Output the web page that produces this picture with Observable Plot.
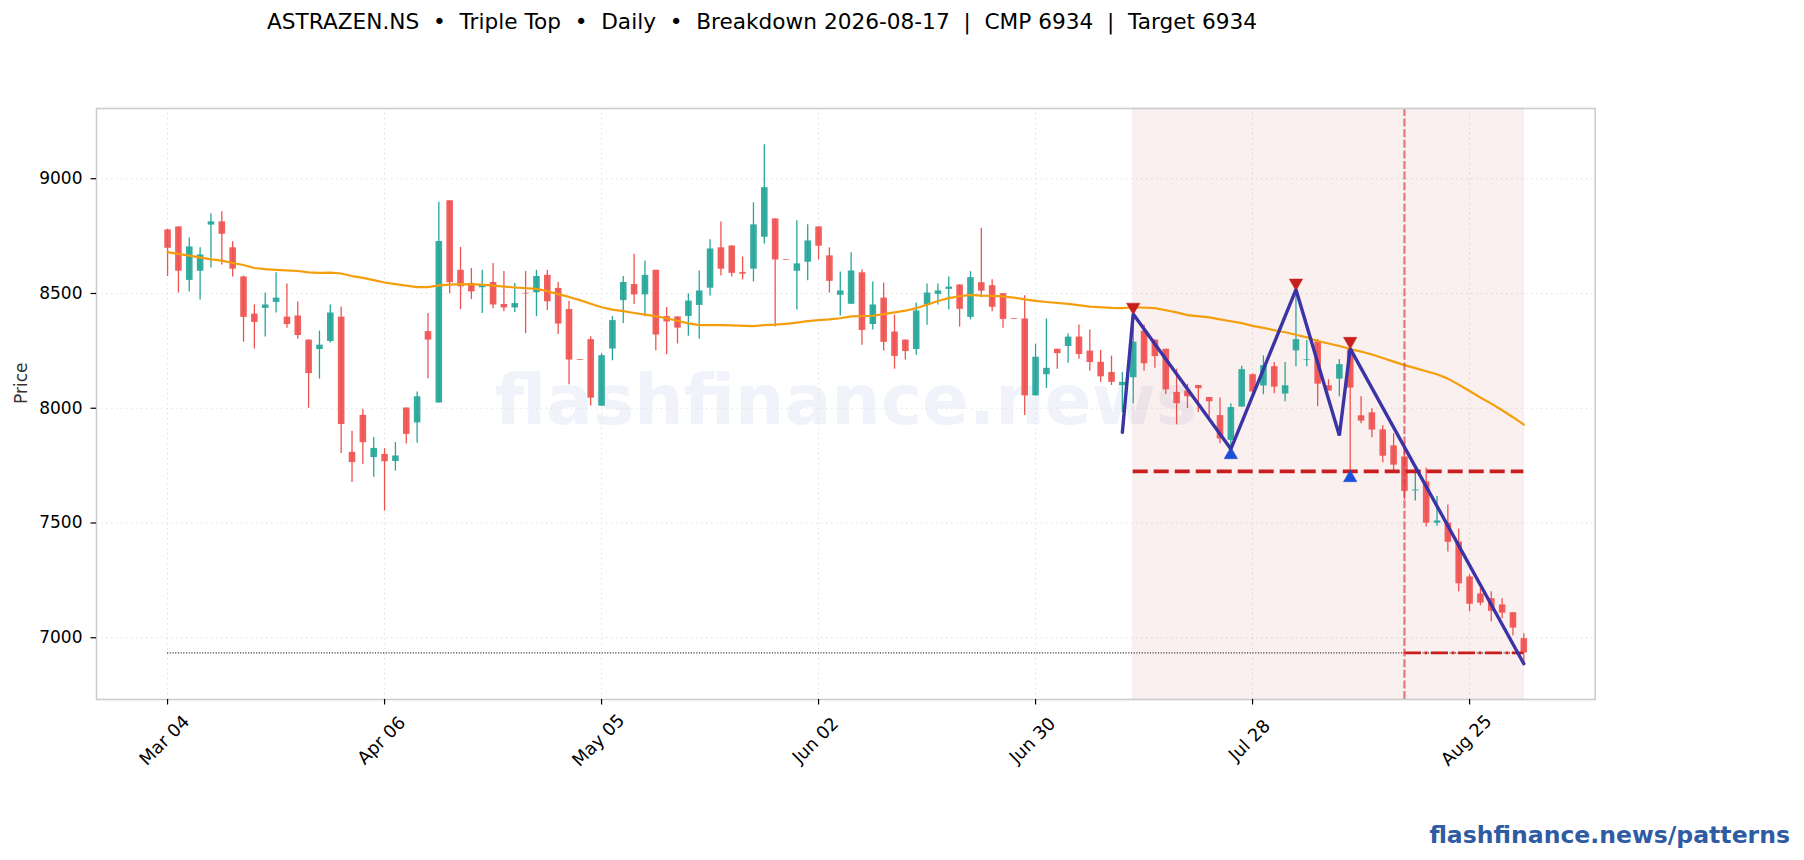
<!DOCTYPE html>
<html>
<head>
<meta charset="utf-8">
<script src="https://cdn.jsdelivr.net/npm/d3@7"></script>
<script src="https://cdn.jsdelivr.net/npm/@observablehq/plot@0.6"></script>
<style>
html,body{margin:0;padding:0;background:#fff;overflow:hidden}
body{width:1804px;height:860px;font-family:"DejaVu Sans",sans-serif}
#title{height:40px;line-height:44px;font-size:21.65px;color:#000;text-align:center;width:1524px;white-space:pre}
#chart svg{display:block}
#chart{height:760px}
#brand{height:60px;line-height:70px;text-align:right;padding-right:14px;font-weight:700;font-size:23.55px;color:#2f5ba3}
</style>
</head>
<body>
<div id="title">ASTRAZEN.NS  •  Triple Top  •  Daily  •  Breakdown 2026-08-17  |  CMP 6934  |  Target 6934</div>
<div id="chart"></div>
<div id="brand">flashfinance.news/patterns</div>
<script>
const opens = [8777,8790,8557,8597,8798,8812,8699,8572,8410,8435,8461,8397,8402,8297,8256,8291,8397,7808,7969,7785,
7799,7768,8001,7936,8334,8023,8904,8601,8544,8525,8548,8452,8437,8501,8503,8579,8522,8430,8211,8299,
8009,8258,8469,8539,8494,8601,8399,8398,8400,8448,8523,8699,8707,8591,8606,8745,8825,8648,8597,8636,
8790,8664,8492,8453,8590,8365,8480,8332,8297,8256,8450,8496,8518,8537,8396,8547,8534,8499,8390,8389,
8054,8146,8257,8269,8310,8249,8200,8156,8098,8133,8336,8297,8257,8069,8075,8099,8047,7968,7860,8005,
8146,8097,8181,8062,8250,8209,8290,8098,8127,8255,7967,7980,7906,7836,7788,7640,7679,7499,7500,7417,
7265,7191,7170,7143,7109,6996];
const closes = [8697,8597,8703,8668,8812,8758,8606,8396,8374,8450,8480,8365,8317,8151,8275,8415,7929,7763,7850,7825,
7767,7792,7886,8050,8297,8727,8547,8529,8507,8535,8450,8437,8456,8498,8574,8464,8367,8210,8208,8044,
8229,8382,8548,8494,8579,8319,8376,8349,8467,8511,8694,8606,8588,8584,8799,8961,8646,8645,8629,8729,
8706,8553,8511,8598,8339,8450,8287,8226,8247,8424,8502,8511,8528,8431,8569,8510,8440,8387,8387,8054,
8222,8174,8238,8310,8234,8199,8137,8113,8113,8288,8194,8225,8080,8020,8050,8085,8028,7866,8003,8168,
8071,8186,8092,8098,8299,8212,8105,8075,8190,8088,7944,7905,7791,7752,7638,7644,7499,7509,7416,7235,
7146,7151,7115,7107,7042,6934];
const highs = [8780,8790,8742,8699,8847,8856,8725,8576,8450,8502,8590,8541,8463,8297,8336,8450,8441,7900,7996,7873,
7824,7851,8001,8071,8413,8898,8904,8701,8609,8601,8631,8596,8544,8596,8601,8601,8548,8465,8211,8312,
8238,8399,8574,8671,8640,8601,8439,8398,8498,8598,8734,8812,8707,8659,8895,9148,8825,8648,8817,8799,
8790,8699,8594,8677,8603,8550,8546,8406,8297,8459,8541,8541,8572,8537,8595,8784,8560,8499,8390,8490,
8279,8389,8257,8323,8363,8341,8253,8227,8156,8410,8363,8297,8257,8170,8104,8099,8047,8045,8020,8183,
8149,8228,8199,8199,8515,8295,8299,8124,8212,8267,8050,7998,7924,7889,7849,7736,7740,7616,7578,7474,
7274,7213,7200,7170,7109,7017];
const lows = [8574,8502,8507,8472,8611,8624,8572,8288,8258,8310,8415,8349,8301,8000,8127,8284,7803,7677,7755,7699,
7552,7726,7844,7848,8128,8023,8499,8430,8474,8413,8434,8420,8417,8325,8399,8426,8321,8102,8208,8010,
8009,8207,8369,8452,8399,8251,8233,8280,8314,8301,8489,8576,8572,8559,8550,8716,8354,8645,8428,8555,
8646,8502,8402,8453,8275,8341,8249,8170,8210,8231,8362,8450,8428,8354,8385,8481,8420,8349,8387,7968,
8054,8086,8170,8196,8213,8161,8113,8099,7980,8020,8161,8174,8060,7928,7999,7981,7955,7845,7826,8005,
8050,8059,8063,8028,8181,8181,8007,8075,8050,7714,7932,7871,7762,7729,7600,7596,7483,7486,7374,7200,
7113,7139,7070,7083,7009,6890];

const maIndex = [0,2,4,5,6,7,8,9,10,12,13,14,15,16,17,18,19,20,21,22,23,24,25,26,27,29,30,32,34,35,36,37,38,39,40,41,42,43,44,45,46,47,48,49,50,51,52,54,55,56,57,58,59,60,61,62,63,65,66,67,68,69,70,71,72,73,74,75,76,77,78,79,80,81,83,85,87,88,89,91,92,93,94,96,97,98,99,100,101,102,103,104,105,106,107,108,109,110,111,112,113,114,115,116,117,118,119,120,121,122,123,124,125];
const maValues = [8680,8665,8649,8643,8633,8624,8611,8606,8603,8598,8592,8590,8591,8587,8576,8568,8558,8548,8541,8534,8528,8528,8535,8539,8541,8539,8534,8526,8520,8510,8497,8485,8471,8455,8440,8430,8423,8415,8408,8401,8392,8381,8370,8362,8362,8362,8361,8358,8362,8364,8368,8373,8380,8384,8387,8392,8400,8403,8410,8418,8425,8436,8451,8467,8480,8488,8494,8491,8490,8487,8482,8474,8468,8463,8455,8443,8437,8436,8440,8436,8427,8418,8406,8396,8387,8379,8371,8359,8350,8340,8331,8320,8309,8293,8282,8271,8258,8247,8234,8219,8203,8188,8175,8161,8148,8129,8103,8075,8047,8020,7991,7961,7929];

const patternIndex = [88,89,98,104,108,109,125];
const patternPrice = [7895,8411,7822,8517,7881,8260,6887];
const peakIndex = [89,104,109];
const peakPrice = [8441,8546,8292];
const troughIndex = [98,109];
const troughPrice = [7797,7697];
const spanStart = 89, spanEnd = 125, breakoutIndex = 114;
const neckline = 7725, target = 6934;
const xTicks = [0,20,40,60,80,100,120];
const xTickLabels = ["Mar 04","Apr 06","May 05","Jun 02","Jun 30","Jul 28","Aug 25"];
const yTicks = [7000,7500,8000,8500,9000];

const candles = opens.map((o,i)=>({i,o,c:closes[i],h:highs[i],l:lows[i]}));
const ma = maIndex.map((x,k)=>({x,y:maValues[k]}));
const pattern = patternIndex.map((x,k)=>({x,y:patternPrice[k]}));
const peaks = peakIndex.map((x,k)=>({x,y:peakPrice[k]}));
const troughs = troughIndex.map((x,k)=>({x,y:troughPrice[k]}));
const RED="#ef5350", TEAL="#26a69a", DOWN_RED="#c81e1e";
const col = d => d.c < d.o ? RED : TEAL;

const plot = Plot.plot({
  width:1804, height:760,
  marginLeft:96, marginRight:209.3, marginTop:68, marginBottom:101,
  style:{background:"#fff",fontFamily:'"DejaVu Sans",sans-serif',fontSize:"16.8px",color:"#000",overflow:"visible"},
  x:{type:"linear",domain:[-6.55,131.58],axis:null},
  y:{domain:[6731,9306],axis:null},
  marks:[
    Plot.text(["flashfinance.news"],{frameAnchor:"middle",fontSize:69.4,fontWeight:700,fill:"#2f5ba3",fillOpacity:0.07,dy:-2}),
    Plot.gridX(xTicks,{stroke:"#e0e0e0",strokeOpacity:1,strokeDasharray:"1.5,3.5"}),
    Plot.gridY(yTicks,{stroke:"#e0e0e0",strokeOpacity:1,strokeDasharray:"1.5,3.5"}),
    Plot.rect([0],{x1:()=>spanStart,x2:()=>spanEnd,fill:DOWN_RED,fillOpacity:0.065,stroke:DOWN_RED,strokeOpacity:0.07}),
    Plot.ruleY([target],{x1:0,x2:125,stroke:"#333",strokeWidth:1.2,strokeDasharray:"1.1,1.6"}),
    Plot.ruleX(candles,{x:"i",y1:"l",y2:"h",stroke:col,strokeWidth:1.3}),
    Plot.ruleX(candles,{x:"i",y1:"o",y2:"c",stroke:col,strokeWidth:6.6,strokeOpacity:0.92}),
    Plot.line(ma,{x:"x",y:"y",stroke:"#f59e0b",strokeWidth:2.2,curve:"linear"}),
    Plot.ruleY([neckline],{x1:spanStart,x2:spanEnd,stroke:DOWN_RED,strokeWidth:3.8,strokeDasharray:"15,6"}),
    Plot.ruleY([target],{x1:breakoutIndex,x2:spanEnd,stroke:DOWN_RED,strokeWidth:2.6,strokeDasharray:"17,3.5,3,3.5"}),
    Plot.ruleX([breakoutIndex],{stroke:"#d9434e",strokeOpacity:0.7,strokeWidth:2.2,strokeDasharray:"8,2.6"}),
    Plot.dot(peaks,{x:"x",y:"y",symbol:"triangle",r:5,fill:DOWN_RED,stroke:DOWN_RED,strokeWidth:0.5,rotate:180}),
    Plot.dot(troughs,{x:"x",y:"y",symbol:"triangle",r:5,fill:"#1d4ed8",stroke:"#1d4ed8",strokeWidth:0.5}),
    Plot.line(pattern,{x:"x",y:"y",stroke:"#3730a3",strokeWidth:3.4,strokeLinejoin:"miter",strokeOpacity:0.98}),
    Plot.frame({stroke:"#cccccc",strokeWidth:1.6}),
    Plot.axisY(yTicks,{anchor:"left",tickSize:5.5,tickPadding:8.5,fontSize:17,tickFormat:d=>String(d),label:null,stroke:"#000",strokeWidth:1.2}),
    Plot.text(["Price"],{frameAnchor:"left",rotate:-90,dx:-75,fontSize:17,fill:"#333"}),
    Plot.axisX(xTicks,{anchor:"bottom",tickSize:5.5,text:null,label:null,stroke:"#000",strokeWidth:1.2}),
    Plot.axisX(xTicks,{anchor:"bottom",tickSize:0,tickRotate:-45,tickPadding:41,dx:-3,textAnchor:"middle",lineAnchor:"middle",fontSize:17.8,tickFormat:d=>xTickLabels[xTicks.indexOf(d)],label:null})
  ]
});
document.getElementById("chart").appendChild(plot);
</script>
</body>
</html>
